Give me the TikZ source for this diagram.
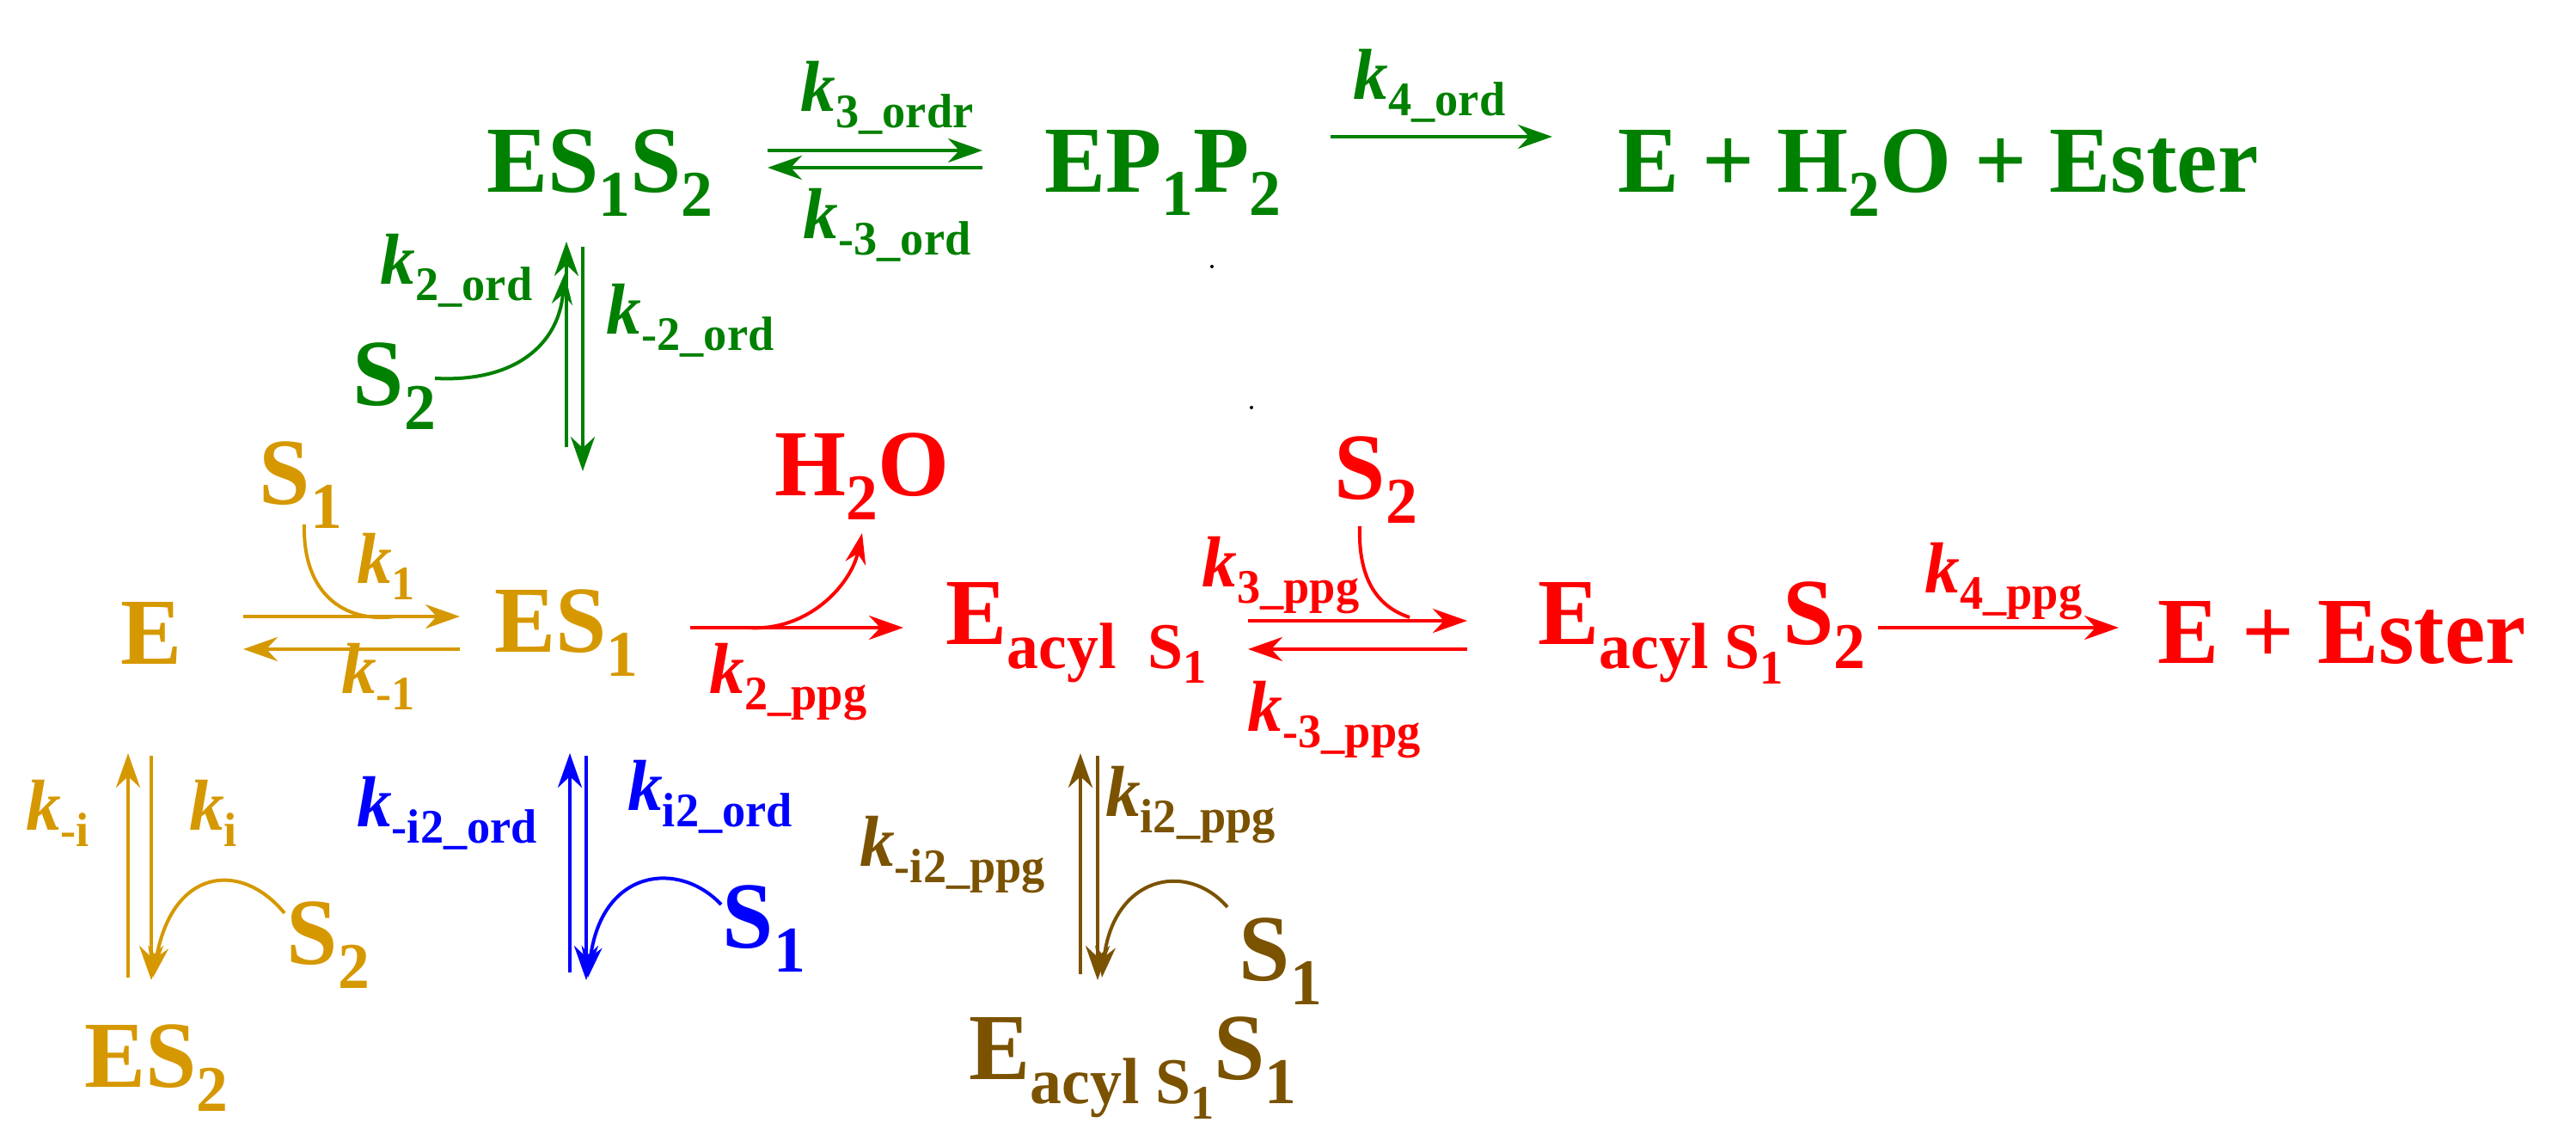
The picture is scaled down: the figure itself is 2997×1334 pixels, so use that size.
\documentclass[tikz,border=0pt]{standalone}
\usepackage{fontspec}
\setmainfont[FakeStretch=0.97]{Liberation Serif}
\usetikzlibrary{arrows.meta}
\definecolor{gold}{RGB}{214,152,0}
\definecolor{grn}{RGB}{0,128,0}
\definecolor{brn}{RGB}{122,82,0}
\newcommand\lo[1]{\raisebox{-0.55ex}{\fontsize{19}{19}\selectfont #1}}
\newcommand\llo[1]{\raisebox{-0.5ex}{\fontsize{14}{14}\selectfont #1}}
\newcommand\kk[1]{\textit{k}\raisebox{-0.5ex}{\fontsize{14}{14}\selectfont #1}}
\tikzset{
 sp/.style={font=\fontsize{27.5}{27.5}\selectfont\bfseries, inner sep=0pt},
 lab/.style={font=\fontsize{21}{21}\selectfont\bfseries, inner sep=0pt},
 ar/.style={line width=1.2pt, -{Stealth[length=10pt,width=7pt]}},
 car/.style={line width=1pt, -{Stealth[length=9pt,width=6pt]}},
}
\begin{document}
\begin{tikzpicture}[x=0.25pt,y=-0.25pt]
\useasboundingbox (0,0) rectangle (2997,1334);
% green
\begin{scope}[grn]
\node[sp] (es1s2) at (698,201) {ES\lo{1}S\lo{2}};
\node[sp] (ep1p2) at (1353,201) {EP\lo{1}P\lo{2}};
\node[sp] (eh2o) at (2255,201) {E + H\lo{2}O + Ester};
\node[lab] (k3o) at (1032,114) {\kk{3\_ordr}};
\node[lab] (km3o) at (1032,262) {\kk{-3\_ord}};
\node[lab] (k4o) at (1663,100) {\kk{4\_ord}};
\node[lab] (k2o) at (531,315) {\kk{2\_ord}};
\node[lab] (km2o) at (803,373) {\kk{-2\_ord}};
\node[sp] (s2g) at (459,449) {S\lo{2}};
\coordinate (a1) at (893,175); \coordinate (b1) at (1143,175);
\coordinate (a2) at (893,195); \coordinate (b2) at (1143,195);
\draw[ar] (a1) -- (b1);
\draw[ar] (b2) -- (a2);
\coordinate (c1) at (1548,159); \coordinate (d1) at (1806,159);
\draw[ar] (c1) -- (d1);
\coordinate (u1) at (659,520); \coordinate (u2) at (659,281);
\coordinate (w1) at (678,287); \coordinate (w2) at (678,548);
\draw[ar] (u1) -- (u2);
\draw[ar] (w1) -- (w2);
\coordinate (gs) at (506,440); \coordinate (ge) at (657,318);
\draw[car] (gs) .. controls (600,445) and (650,400) .. (ge);
\end{scope}
\fill (1410,310) circle (2); \fill (1456,474) circle (2);
% gold
\begin{scope}[gold]
\node[sp] (s1) at (350,564) {S\lo{1}};
\node[sp] (e) at (176,736) {E};
\node[sp] (es1) at (659,736) {ES\lo{1}};
\node[lab] (k1) at (449,659) {\kk{1}};
\node[lab] (km1) at (440,787) {\kk{-1}};
\coordinate (p1) at (283,717); \coordinate (q1) at (535,717);
\coordinate (p2) at (283,755); \coordinate (q2) at (535,755);
\draw[ar] (p1) -- (q1);
\draw[ar] (q2) -- (p2);
\draw[line width=1pt] (354,610) .. controls (352,690) and (400,725) .. (460,717);
\node[sp] (es2) at (182,1242) {ES\lo{2}};
\node[sp] (s2b) at (382,1099) {S\lo{2}};
\node[lab] (kmi) at (67,946) {\kk{-i}};
\node[lab] (ki) at (248,946) {\kk{i}};
\coordinate (v1) at (149,1137); \coordinate (v2) at (149,876);
\coordinate (x1) at (176,879); \coordinate (x2) at (176,1140);
\draw[ar] (v1) -- (v2);
\draw[ar] (x1) -- (x2);
\coordinate (gs2) at (331,1062);
\draw[car] (gs2) .. controls (280,1000) and (200,1010) .. (178,1137);
\end{scope}
% red
\begin{scope}[red]
\node[sp] (h2o) at (1003,554) {H\lo{2}O};
\node[sp] (eac) at (1252,736) {E\lo{acyl~~S\llo{1}}};
\node[sp] (eacs2) at (1980,736) {E\lo{acyl~S\llo{1}}S\lo{2}};
\node[sp] (eest) at (2725,736) {E + Ester};
\node[sp] (s2r) at (1601,558) {S\lo{2}};
\node[lab] (k2p) at (917,793) {\kk{2\_ppg}};
\node[lab] (k3p) at (1490,669) {\kk{3\_ppg}};
\node[lab] (km3p) at (1552,837) {\kk{-3\_ppg}};
\node[lab] (k4p) at (2331,676) {\kk{4\_ppg}};
\coordinate (r1) at (803,730); \coordinate (r2) at (1051,730);
\draw[ar] (r1) -- (r2);
\draw[car] (870,730) .. controls (940,735) and (990,680) .. (1003,620);
\coordinate (m1) at (1452,722); \coordinate (n1) at (1707,722);
\coordinate (m2) at (1452,755); \coordinate (n2) at (1707,755);
\draw[ar] (m1) -- (n1);
\draw[ar] (n2) -- (m2);
\draw[line width=1pt] (1582,612) .. controls (1580,670) and (1600,705) .. (1640,718);
\coordinate (o1) at (2185,730); \coordinate (o2) at (2465,730);
\draw[ar] (o1) -- (o2);
\end{scope}
% blue
\begin{scope}[blue]
\node[sp] (s1b) at (889,1080) {S\lo{1}};
\node[lab] (kmi2o) at (520,946) {\kk{-i2\_ord}};
\node[lab] (ki2o) at (826,927) {\kk{i2\_ord}};
\coordinate (y1) at (663,1131); \coordinate (y2) at (663,876);
\coordinate (z1) at (682,879); \coordinate (z2) at (682,1140);
\draw[ar] (y1) -- (y2);
\draw[ar] (z1) -- (z2);
\draw[car] (839,1052) .. controls (790,1000) and (700,1010) .. (684,1137);
\end{scope}
% brown
\begin{scope}[brn]
\node[sp] (s1n) at (1490,1118) {S\lo{1}};
\node[sp] (eacs1) at (1318,1242) {E\lo{acyl S\llo{1}}S\lo{1}};
\node[lab] (kmi2p) at (1108,994) {\kk{-i2\_ppg}};
\node[lab] (ki2p) at (1385,936) {\kk{i2\_ppg}};
\coordinate (f1) at (1257,1133); \coordinate (f2) at (1257,876);
\coordinate (h1) at (1277,879); \coordinate (h2) at (1277,1140);
\draw[ar] (f1) -- (f2);
\draw[ar] (h1) -- (h2);
\draw[car] (1428,1055) .. controls (1380,1000) and (1295,1020) .. (1282,1137);
\end{scope}
\end{tikzpicture}
\end{document}
